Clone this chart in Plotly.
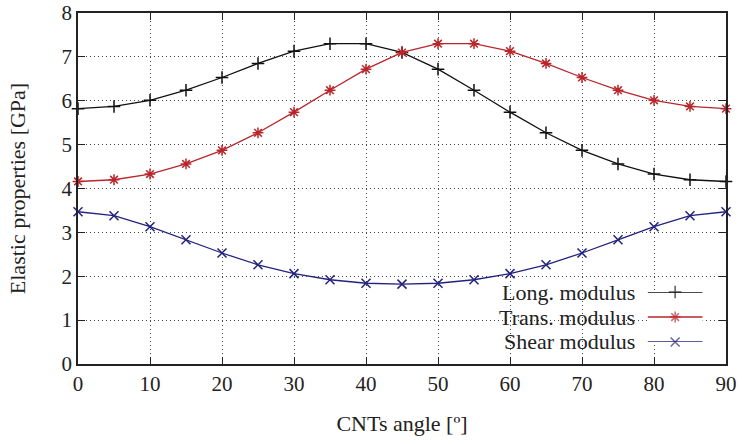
import plotly.graph_objects as go

angles = list(range(0, 95, 5))
long_mod = [5.82, 5.87, 6.01, 6.24, 6.53, 6.85, 7.13, 7.30, 7.30, 7.10, 6.72, 6.24, 5.74, 5.27, 4.87, 4.56, 4.33, 4.20, 4.16]
trans_mod = [4.16, 4.20, 4.33, 4.56, 4.87, 5.27, 5.74, 6.24, 6.72, 7.10, 7.30, 7.30, 7.13, 6.85, 6.53, 6.24, 6.01, 5.87, 5.82]
shear_mod = [3.47, 3.38, 3.13, 2.83, 2.53, 2.26, 2.06, 1.92, 1.84, 1.82, 1.84, 1.92, 2.06, 2.26, 2.53, 2.83, 3.13, 3.38, 3.47]

names = ["Long. modulus", "Trans. modulus", "Shear modulus"]
colors = ["#111111", "#b8262b", "#23237f"]
symbols = ["cross-thin-open", "asterisk-open", "x-thin-open"]
series = [long_mod, trans_mod, shear_mod]

FONT = "Liberation Serif"
TXT = "#222222"
fig = go.Figure()
for n, c, s, v in zip(names, colors, symbols, series):
    fig.add_trace(go.Scatter(x=angles, y=v, mode="lines+markers", name=n,
                             line=dict(color=c, width=1.3),
                             marker=dict(symbol=s, size=9, line=dict(color=c, width=1.5)),
                             cliponaxis=False, showlegend=False))

# custom legend (text right-aligned, key on the right, gnuplot style)
for i, n, c, s in zip([0, 1, 2], names, colors, symbols):
    fig.add_trace(go.Scatter(x=[0, 0.5, 1], y=[-i, -i, -i], xaxis="x2", yaxis="y2",
                             mode="lines+markers", showlegend=False, hoverinfo="skip",
                             cliponaxis=False,
                             line=dict(color=c, width=1.3),
                             marker=dict(symbol=s, size=[0, 9, 0], line=dict(color=c, width=1.5))))
    fig.add_annotation(x=0, y=-i, xref="x2", yref="y2", text=n, showarrow=False,
                       xanchor="right", xshift=-11, font=dict(family=FONT, size=22, color=TXT))

axis_common = dict(ticks="inside", ticklen=7, tickcolor=TXT, tickwidth=1,
                   showline=True, linecolor=TXT, linewidth=1.5, mirror="ticks",
                   showgrid=True, gridcolor="#444", griddash="1px,3px", gridwidth=1,
                   zeroline=False, tickfont=dict(size=21), ticklabeloverflow="allow",
                   automargin=False)

fig.update_layout(
    width=743, height=444,
    margin=dict(l=78, r=17, t=13, b=80),
    paper_bgcolor="white", plot_bgcolor="white",
    font=dict(family=FONT, size=21, color=TXT),
    xaxis=dict(range=[0, 90], dtick=10, **axis_common,
               title=dict(text="CNTs angle [º]", font=dict(size=22), standoff=21)),
    yaxis=dict(range=[0, 8], dtick=1, **axis_common,
               title=dict(text="Elastic properties [GPa]", font=dict(size=22), standoff=30)),
    xaxis2=dict(domain=[0.879, 0.964], range=[0, 1], visible=False, fixedrange=True),
    yaxis2=dict(domain=[0.0627, 0.205], range=[-2, 0], visible=False, fixedrange=True, anchor="x2"),
)
fig.write_html("out.html")
